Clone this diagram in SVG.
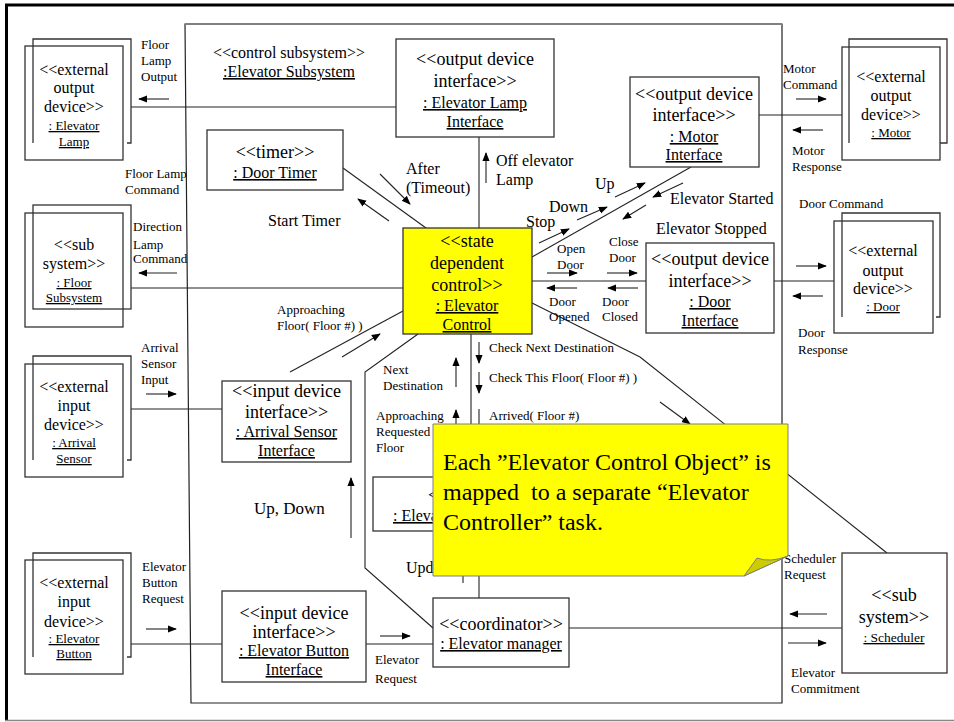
<svg xmlns="http://www.w3.org/2000/svg" width="954" height="722" viewBox="0 0 954 722">
  <defs>
    <marker id="ah" viewBox="0 0 10 10" refX="9" refY="5" markerWidth="9" markerHeight="9" orient="auto" markerUnits="userSpaceOnUse">
      <path d="M0,1 L10,5 L0,9 z" fill="#000"/>
    </marker>
    <style>
      text { font-family: "Liberation Serif", "Times New Roman", serif; fill: #000; }
      .c { text-anchor: middle; }
      .f18 { font-size: 18px; }
      .f16 { font-size: 16px; }
      .f13 { font-size: 13px; }
      .u { text-decoration: underline; }
      .box { fill: #fff; stroke: #333; stroke-width: 1.3; }
      .open { fill: none; stroke: #333; stroke-width: 1.3; }
      .conn line, .conn polyline { fill: none; stroke: #222; stroke-width: 1.1; }
      .arr { stroke: #000; stroke-width: 1.2; marker-end: url(#ah); }
      .pre { white-space: pre; }
    </style>
  </defs>

  <rect x="0" y="0" width="954" height="722" fill="#fff"/>

  <!-- page frame -->
  <line x1="5" y1="5" x2="954" y2="5" stroke="#000" stroke-width="3"/>
  <line x1="6.5" y1="4" x2="6.5" y2="720" stroke="#000" stroke-width="3"/>
  <line x1="5" y1="720.5" x2="954" y2="720.5" stroke="#888" stroke-width="1.5"/>

  <!-- control subsystem boundary -->
  <g id="elevator-subsystem">
    <polygon points="185,24 782,24 782,703 191,703" fill="none" stroke="#222" stroke-width="1.2"/>
    <line x1="185" y1="24" x2="782" y2="24" stroke="#808080" stroke-width="2"/>
    <text class="c f16" x="289" y="58">&lt;&lt;control subsystem&gt;&gt;</text>
    <text class="c f16 u" x="289" y="77">:Elevator Subsystem</text>
  </g>

  <!-- connectors -->
  <g id="connectors" class="conn">
    <line x1="131" y1="107" x2="396" y2="107"/>
    <line x1="479" y1="137" x2="479" y2="228"/>
    <line x1="343" y1="168" x2="426" y2="228"/>
    <line x1="691" y1="167" x2="532" y2="257"/>
    <line x1="759" y1="115" x2="842" y2="115"/>
    <line x1="532" y1="281" x2="646" y2="281"/>
    <line x1="774" y1="281" x2="834" y2="281"/>
    <line x1="131" y1="288" x2="403" y2="288"/>
    <line x1="131" y1="409" x2="222" y2="409"/>
    <line x1="290" y1="372" x2="403" y2="311"/>
    <polyline points="532,303 640,357 887,553"/>
    <line x1="471" y1="334" x2="471" y2="477"/>
    <line x1="479" y1="531" x2="479" y2="598"/>
    <line x1="463" y1="560" x2="463" y2="583"/>
    <polyline points="418,334 365,372 365,568 433,628"/>
    <line x1="131" y1="644" x2="222" y2="644"/>
    <line x1="366" y1="644" x2="433" y2="644"/>
    <line x1="569" y1="628" x2="842" y2="628"/>

    <!-- message arrows -->
    <line class="arr" x1="169" y1="99" x2="139" y2="99"/>
    <line class="arr" x1="486" y1="183" x2="486" y2="153"/>
    <line class="arr" x1="380" y1="174" x2="410" y2="204"/>
    <line class="arr" x1="389" y1="221" x2="358" y2="199"/>
    <line class="arr" x1="615" y1="197" x2="645" y2="183"/>
    <line class="arr" x1="577" y1="220" x2="607" y2="207"/>
    <line class="arr" x1="539" y1="243" x2="569" y2="229"/>
    <line class="arr" x1="683" y1="183" x2="653" y2="197"/>
    <line class="arr" x1="646" y1="205" x2="623" y2="219"/>
    <line class="arr" x1="796" y1="99" x2="826" y2="99"/>
    <line class="arr" x1="823" y1="130" x2="793" y2="130"/>
    <line class="arr" x1="547" y1="273" x2="577" y2="273"/>
    <line class="arr" x1="607" y1="273" x2="637" y2="273"/>
    <line class="arr" x1="577" y1="288" x2="547" y2="288"/>
    <line class="arr" x1="638" y1="288" x2="608" y2="288"/>
    <line class="arr" x1="796" y1="266" x2="826" y2="266"/>
    <line class="arr" x1="823" y1="296" x2="793" y2="296"/>
    <line class="arr" x1="177" y1="273" x2="139" y2="273"/>
    <line class="arr" x1="146" y1="394" x2="176" y2="394"/>
    <line class="arr" x1="342" y1="357" x2="380" y2="334"/>
    <line class="arr" x1="479" y1="342" x2="479" y2="363"/>
    <line class="arr" x1="479" y1="372" x2="479" y2="393"/>
    <line x1="479" y1="409" x2="479" y2="440"/>
    <line class="arr" x1="456" y1="387" x2="456" y2="358"/>
    <line class="arr" x1="456" y1="440" x2="456" y2="410"/>
    <line class="arr" x1="660" y1="402" x2="690" y2="424"/>
    <line class="arr" x1="351" y1="538" x2="351" y2="478"/>
    <line class="arr" x1="146" y1="629" x2="176" y2="629"/>
    <line class="arr" x1="380" y1="636" x2="410" y2="636"/>
    <line class="arr" x1="827" y1="614" x2="790" y2="614"/>
    <line class="arr" x1="788" y1="643" x2="826" y2="643"/>
  </g>

  <!-- message labels -->
  <g id="labels">
    <text class="f13" x="141" y="49">Floor</text>
    <text class="f13" x="141" y="65">Lamp</text>
    <text class="f13" x="141" y="81">Output</text>
    <text class="f16" x="496" y="166">Off elevator</text>
    <text class="f16" x="496" y="185">Lamp</text>
    <text class="f16" x="406" y="174">After</text>
    <text class="f16" x="406" y="193">(Timeout)</text>
    <text class="f16" x="268" y="226">Start Timer</text>
    <text class="f13" x="125" y="178">Floor Lamp</text>
    <text class="f13" x="125" y="194">Command</text>
    <text class="f16" x="595" y="189">Up</text>
    <text class="f16" x="549" y="212">Down</text>
    <text class="f16" x="526" y="227">Stop</text>
    <text class="f16" x="670" y="204">Elevator Started</text>
    <text class="f16" x="656" y="234">Elevator Stopped</text>
    <text class="f13" x="783" y="73">Motor</text>
    <text class="f13" x="783" y="89">Command</text>
    <text class="f13" x="792" y="155">Motor</text>
    <text class="f13" x="792" y="171">Response</text>
    <text class="f13" x="799" y="208">Door Command</text>
    <text class="f13" x="798" y="337">Door</text>
    <text class="f13" x="798" y="354">Response</text>
    <text class="f13" x="557" y="253">Open</text>
    <text class="f13" x="557" y="269">Door</text>
    <text class="f13" x="609" y="246">Close</text>
    <text class="f13" x="609" y="262">Door</text>
    <text class="f13" x="549" y="306">Door</text>
    <text class="f13" x="549" y="321">Opened</text>
    <text class="f13" x="602" y="306">Door</text>
    <text class="f13" x="602" y="321">Closed</text>
    <text class="f13" x="133" y="231">Direction</text>
    <text class="f13" x="133" y="249">Lamp</text>
    <text class="f13" x="133" y="263">Command</text>
    <text class="f13" x="141" y="352">Arrival</text>
    <text class="f13" x="141" y="368">Sensor</text>
    <text class="f13" x="141" y="384">Input</text>
    <text class="f13" x="277" y="314">Approaching</text>
    <text class="f13" x="277" y="330">Floor( Floor #) )</text>
    <text class="f13" x="489" y="352">Check Next Destination</text>
    <text class="f13" x="489" y="382">Check This Floor( Floor #) )</text>
    <text class="f13" x="489" y="420">Arrived( Floor #)</text>
    <text class="f13" x="383" y="374">Next</text>
    <text class="f13" x="383" y="390">Destination</text>
    <text class="f13" x="376" y="420">Approaching</text>
    <text class="f13" x="376" y="436">Requested</text>
    <text class="f13" x="376" y="452">Floor</text>
    <text x="254" y="514" font-size="17">Up, Down</text>
    <text class="f16" x="406" y="573">Upd</text>
    <text class="f13" x="142" y="571">Elevator</text>
    <text class="f13" x="142" y="587">Button</text>
    <text class="f13" x="142" y="603">Request</text>
    <text class="f13" x="375" y="664">Elevator</text>
    <text class="f13" x="375" y="683">Request</text>
    <text class="f13" x="784" y="563">Scheduler</text>
    <text class="f13" x="784" y="579">Request</text>
    <text class="f13" x="791" y="677">Elevator</text>
    <text class="f13" x="791" y="693">Commitment</text>
  </g>

  <!-- external devices -->
  <g id="ext-elevator-lamp">
    <path class="open" d="M33,143 V39 H131 V143 H127"/>
    <rect class="open" x="25" y="46" width="98" height="114"/>
    <text class="c f16" x="74" y="75">&lt;&lt;external</text>
    <text class="c f16" x="74" y="93">output</text>
    <text class="c f16" x="74" y="112">device&gt;&gt;</text>
    <text class="c f13 u" x="74" y="130"> : Elevator</text>
    <text class="c f13 u" x="74" y="146">Lamp</text>
  </g>

  <g id="ext-floor-subsystem">
    <rect class="open" x="33" y="205" width="98" height="104"/>
    <rect class="open" x="25" y="213" width="98" height="114"/>
    <text class="c f16" x="74" y="250">&lt;&lt;sub</text>
    <text class="c f16" x="74" y="269">system&gt;&gt;</text>
    <text class="c f13 u" x="74" y="287">: Floor</text>
    <text class="c f13 u" x="74" y="302">Subsystem</text>
  </g>

  <g id="ext-arrival-sensor">
    <path class="open" d="M33,460 V356 H131 V460 H127"/>
    <rect class="open" x="25" y="364" width="98" height="113"/>
    <text class="c f16" x="74" y="392">&lt;&lt;external</text>
    <text class="c f16" x="74" y="411">input</text>
    <text class="c f16" x="74" y="430">device&gt;&gt;</text>
    <text class="c f13 u" x="74" y="447">: Arrival</text>
    <text class="c f13 u" x="74" y="463">Sensor</text>
  </g>

  <g id="ext-elevator-button">
    <path class="open" d="M33,657 V553 H131 V657 H127"/>
    <rect class="open" x="25" y="560" width="98" height="114"/>
    <text class="c f16" x="74" y="588">&lt;&lt;external</text>
    <text class="c f16" x="74" y="607">input</text>
    <text class="c f16" x="74" y="627">device&gt;&gt;</text>
    <text class="c f13 u" x="74" y="643">: Elevator</text>
    <text class="c f13 u" x="74" y="658">Button</text>
  </g>

  <g id="ext-motor">
    <path class="open" d="M849,143 V39 H947 V143 H940"/>
    <rect class="open" x="842" y="47" width="98" height="113"/>
    <text class="c f16" x="891" y="82">&lt;&lt;external</text>
    <text class="c f16" x="891" y="101">output</text>
    <text class="c f16" x="891" y="120">device&gt;&gt;</text>
    <text class="c f13 u" x="891" y="137">: Motor</text>
  </g>

  <g id="ext-door">
    <path class="open" d="M842,317 V213 H940 V317 H936"/>
    <rect class="open" x="834" y="221" width="99" height="112"/>
    <text class="c f16" x="883" y="256">&lt;&lt;external</text>
    <text class="c f16" x="883" y="276">output</text>
    <text class="c f16" x="883" y="294">device&gt;&gt;</text>
    <text class="c f13 u" x="883" y="311">: Door</text>
  </g>

  <g id="scheduler">
    <rect class="box" x="842" y="553" width="105" height="120"/>
    <text class="c f18" x="894" y="601">&lt;&lt;sub</text>
    <text class="c f18" x="894" y="623">system&gt;&gt;</text>
    <text class="c u" x="894" y="642" font-size="13.5">: Scheduler</text>
  </g>

  <!-- objects inside the subsystem -->
  <g id="elevator-lamp-interface">
    <rect class="box" x="396" y="39" width="158" height="98"/>
    <text class="c f18" x="475" y="65">&lt;&lt;output device</text>
    <text class="c f18" x="475" y="87">interface&gt;&gt;</text>
    <text class="c f16 u" x="475" y="108">: Elevator Lamp</text>
    <text class="c f16 u" x="475" y="127">Interface</text>
  </g>

  <g id="door-timer">
    <rect class="box" x="207" y="130" width="136" height="60"/>
    <text class="c f18" x="275" y="158">&lt;&lt;timer&gt;&gt;</text>
    <text class="c f16 u" x="275" y="178">: Door Timer</text>
  </g>

  <g id="motor-interface">
    <rect class="box" x="630" y="77" width="129" height="90"/>
    <text class="c f18" x="694" y="100">&lt;&lt;output device</text>
    <text class="c f18" x="694" y="121">interface&gt;&gt;</text>
    <text class="c f16 u" x="694" y="142">: Motor</text>
    <text class="c f16 u" x="694" y="160">Interface</text>
  </g>

  <g id="elevator-control">
    <rect x="403" y="228" width="129" height="106" fill="#ffff00" stroke="#333" stroke-width="1.3"/>
    <text class="c f18" x="467" y="247">&lt;&lt;state</text>
    <text class="c f18" x="467" y="269">dependent</text>
    <text class="c f18" x="467" y="291">control&gt;&gt;</text>
    <text class="c f16 u" x="467" y="311">: Elevator</text>
    <text class="c f16 u" x="467" y="330">Control</text>
  </g>

  <g id="door-interface">
    <rect class="box" x="646" y="243" width="128" height="90"/>
    <text class="c f18" x="710" y="265">&lt;&lt;output device</text>
    <text class="c f18" x="710" y="287">interface&gt;&gt;</text>
    <text class="c f16 u" x="710" y="307">: Door</text>
    <text class="c f16 u" x="710" y="326">Interface</text>
  </g>

  <g id="arrival-sensor-interface">
    <rect class="box" x="222" y="381" width="129" height="81"/>
    <text class="c f18" x="286.5" y="397">&lt;&lt;input device</text>
    <text class="c f18" x="286.5" y="418">interface&gt;&gt;</text>
    <text class="c f16 u" x="286.5" y="437">: Arrival Sensor</text>
    <text class="c f16 u" x="286.5" y="456">Interface</text>
  </g>

  <g id="elevator-status">
    <rect class="box" x="373" y="477" width="190" height="54"/>
    <text class="f18" x="428" y="501">&lt;</text>
    <text class="f16 u" x="393" y="521">: Eleva</text>
  </g>

  <g id="elevator-button-interface">
    <rect class="box" x="222" y="591" width="144" height="91"/>
    <text class="c f18" x="294" y="619">&lt;&lt;input device</text>
    <text class="c f18" x="294" y="638">interface&gt;&gt;</text>
    <text class="c f16 u" x="294" y="656">: Elevator Button</text>
    <text class="c f16 u" x="294" y="675">Interface</text>
  </g>

  <g id="elevator-manager">
    <rect class="box" x="433" y="598" width="136" height="69"/>
    <text class="c f18" x="501" y="630">&lt;&lt;coordinator&gt;&gt;</text>
    <text class="c f16 u" x="501" y="649">: Elevator manager</text>
  </g>

  <!-- sticky note -->
  <g id="note">
    <path d="M433,424 H788 V556 L744,576 H433 Z" fill="#ffff00" stroke="#7f7f7f" stroke-width="1"/>
    <path d="M744,576 L757,558 Q770,563 788,556 Z" fill="#cccc00" stroke="#7f7f7f" stroke-width="1"/>
    <text x="443" y="470" font-size="24" class="pre">Each ”Elevator Control Object” is</text>
    <text x="443" y="500" font-size="24" class="pre">mapped  to a separate “Elevator</text>
    <text x="443" y="530" font-size="24" class="pre">Controller” task.</text>
  </g>
</svg>
